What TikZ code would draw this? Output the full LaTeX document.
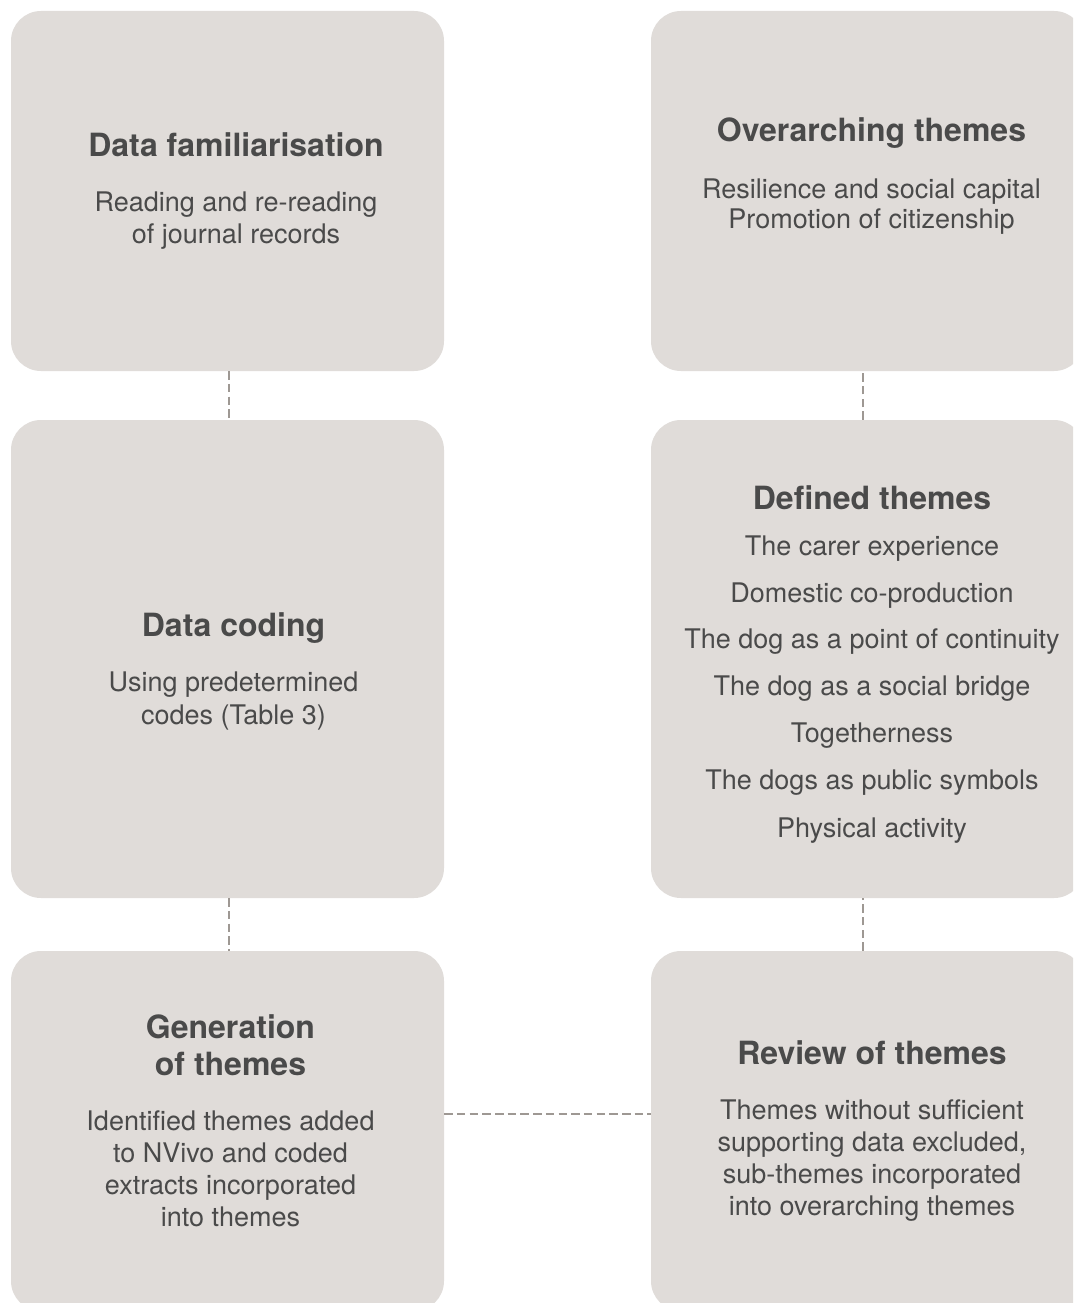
\documentclass[tikz,border=0pt]{standalone}
\usepackage{fontspec}
\setmainfont{TeX Gyre Heros}
\definecolor{boxfill}{HTML}{E0DCD9}
\definecolor{dashc}{HTML}{9E9893}
\definecolor{txt}{HTML}{4A4A4A}
\begin{document}
\begin{tikzpicture}[x=1pt,y=-1pt,
  box/.style={fill=boxfill, draw=none, rounded corners=30pt, inner sep=0pt, minimum width=433pt},
  ttl/.style={anchor=base, font=\fontsize{32}{37}\selectfont\bfseries, text=txt, inner sep=0pt},
  bod/.style={anchor=base, font=\fontsize{27}{32}\selectfont, text=txt, inner sep=0pt},
  conn/.style={draw=dashc, line width=2.2pt, dash pattern=on 8.5pt off 4.2pt}]
\clip (0,0) rectangle (1073,1303);
\fill[white] (0,0) rectangle (1073,1303);
% boxes
\node[box, minimum height=360pt] (b1) at (227.5,191) {};
\node[box, minimum height=478pt] (b2) at (227.5,659) {};
\node[box, minimum height=360pt] (b3) at (227.5,1131) {};
\node[box, minimum height=360pt] (b4) at (867.5,191) {};
\node[box, minimum height=478pt] (b5) at (867.5,659) {};
\node[box, minimum height=360pt] (b6) at (867.5,1131) {};
% connectors
\draw[conn] ([xshift=1.5pt]b1.south) -- ([xshift=1.5pt]b2.north);
\draw[conn] ([xshift=1.5pt]b2.south) -- ([xshift=1.5pt]b3.north);
\draw[conn] ([yshift=17pt]b3.east) -- ([yshift=17pt]b6.west);
\draw[conn] ([xshift=-4.5pt]b6.north) -- ([xshift=-4.5pt]b5.south);
\draw[conn] ([xshift=-4.5pt]b5.north) -- ([xshift=-4.5pt]b4.south);
% left top
\node[ttl] (t1) at (236,156) {Data familiarisation};
\node[bod] (t1a) at (236,211.7) {Reading and re-reading};
\node[bod] (t1b) at (236,243.5) {of journal records};
% left middle
\node[ttl] (t2) at (233.5,636) {Data coding};
\node[bod] (t2a) at (233.5,691.7) {Using predetermined};
\node[bod] (t2b) at (233.5,724.5) {codes (Table 3)};
% left bottom
\node[ttl] (t3) at (230.5,1038.3) {Generation};
\node[ttl] (t3x) at (230.5,1075) {of themes};
\node[bod] (t3a) at (230.5,1130.5) {Identified themes added};
\node[bod] (t3b) at (230.5,1162.7) {to NVivo and coded};
\node[bod] (t3c) at (230.5,1194.8) {extracts incorporated};
\node[bod] (t3d) at (230.5,1226.8) {into themes};
% right top
\node[ttl] (t4) at (871.5,141.8) {Overarching themes};
\node[bod] (t4a) at (871.5,198.3) {Resilience and social capital};
\node[bod] (t4b) at (871.5,228.5) {Promotion of citizenship};
% right middle
\node[ttl] (t5) at (872,509) {Defined themes};
\node[bod] (t5a) at (872,555.7) {The carer experience};
\node[bod] (t5b) at (872,602.7) {Domestic co-production};
\node[bod] (t5c) at (872,648.7) {The dog as a point of continuity};
\node[bod] (t5d) at (872,695.7) {The dog as a social bridge};
\node[bod] (t5e) at (872,742.7) {Togetherness};
\node[bod] (t5f) at (872,789.7) {The dogs as public symbols};
\node[bod] (t5g) at (872,837.7) {Physical activity};
% right bottom
\node[ttl] (t6) at (872,1064) {Review of themes};
\node[bod] (t6a) at (872,1119.7) {Themes without sufficient};
\node[bod] (t6b) at (872,1151.7) {supporting data excluded,};
\node[bod] (t6c) at (872,1183.7) {sub-themes incorporated};
\node[bod] (t6d) at (872,1215.7) {into overarching themes};
\end{tikzpicture}
\end{document}
